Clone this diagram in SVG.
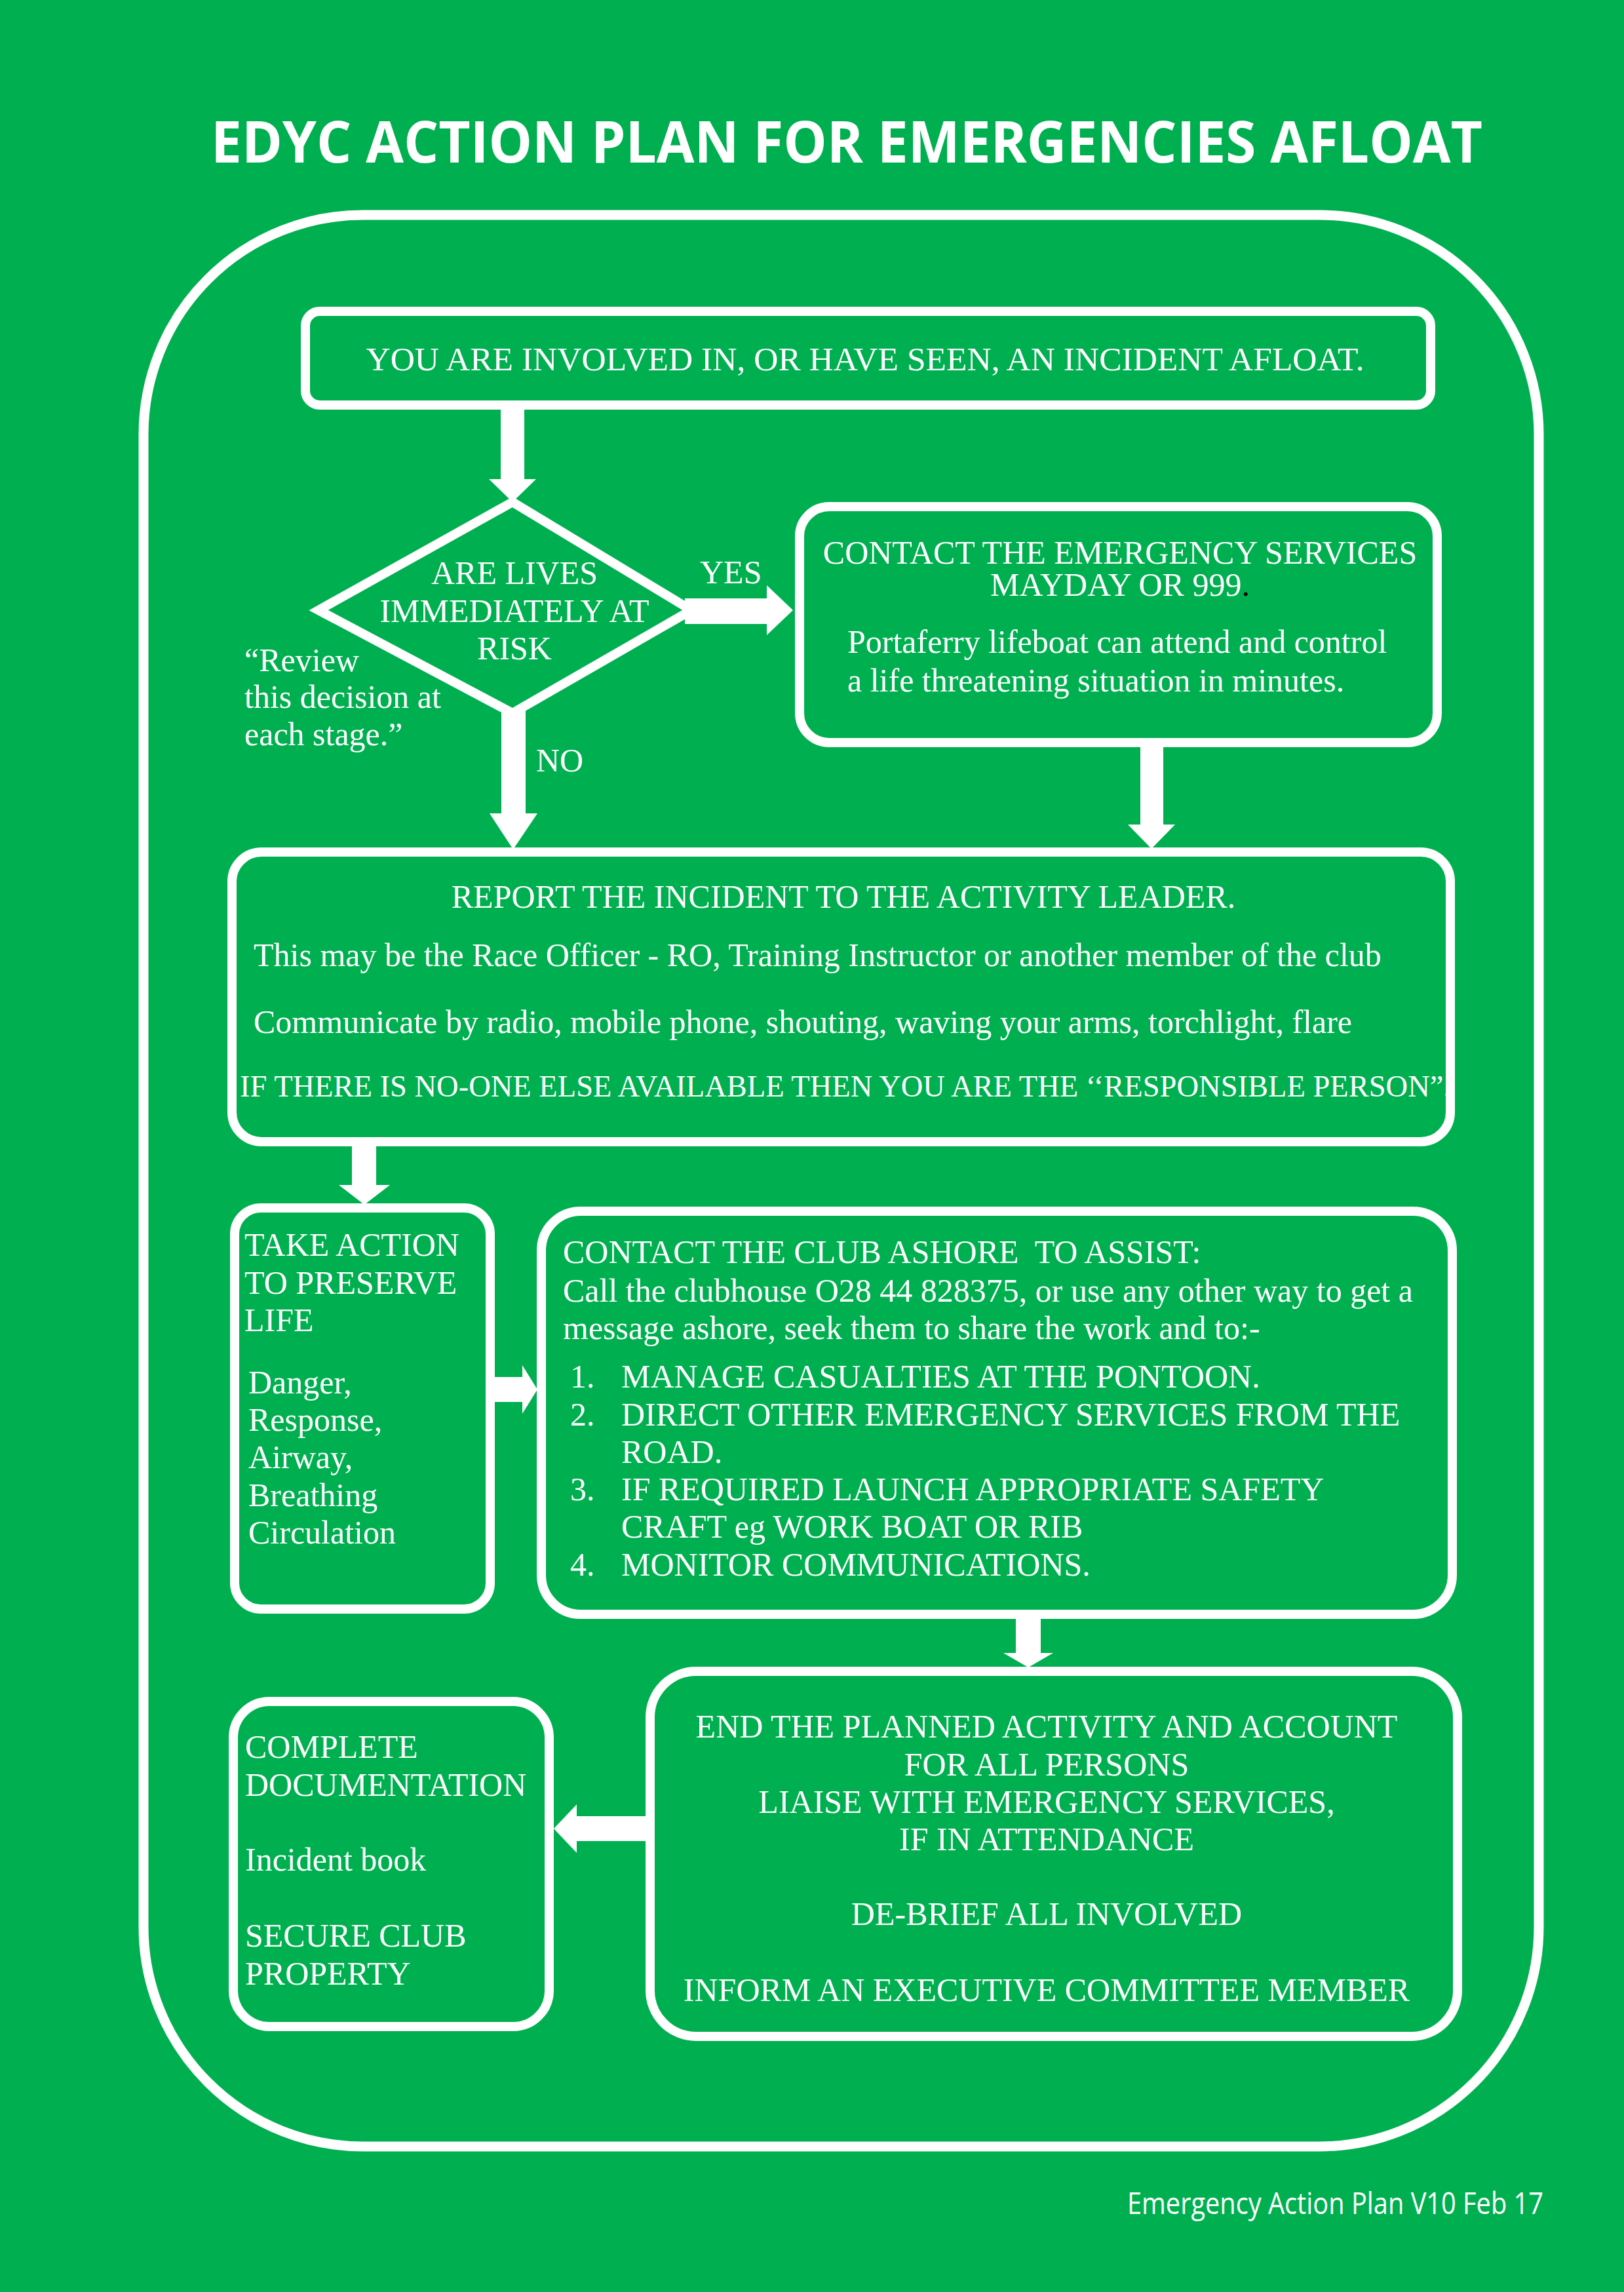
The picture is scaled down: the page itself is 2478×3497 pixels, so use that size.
<svg xmlns="http://www.w3.org/2000/svg" width="2478" height="3497" viewBox="0 0 2478 3497">
<style>
.bg{fill:#00B050}
.box{fill:none;stroke:#fff;stroke-width:14}
.arrow{fill:#fff}
.t{font-family:"Liberation Serif","Times New Roman",serif;font-size:50px;fill:#fff}
.c{text-anchor:middle}
.title{font-family:"Open Sans","Liberation Sans",sans-serif;font-weight:bold;font-size:88px;fill:#fff}
.foot{font-family:"Open Sans","Liberation Sans",sans-serif;font-size:46px;fill:#fff}
</style>
<rect class="bg" x="0" y="0" width="2478" height="3497"/>
<text class="title" x="322" y="248" textLength="1940" lengthAdjust="spacingAndGlyphs">EDYC ACTION PLAN FOR EMERGENCIES AFLOAT</text>
<rect id="frame" x="219" y="328" width="2129" height="2947" rx="335" ry="335" fill="none" stroke="#fff" stroke-width="15"/>
<g id="connectors">
<polygon class="arrow" points="764,620 800,620 800,731 818,731 782,766 746,731 764,731"/>
<polygon class="arrow" points="1045,913 1170,913 1170,893 1210,931 1170,969 1170,952 1045,952"/>
<polygon class="arrow" points="765,1082 802,1082 802,1241 820,1241 783,1296 747,1241 765,1241"/>
<polygon class="arrow" points="1740,1136 1775,1136 1775,1258 1793,1258 1757,1295 1721,1258 1740,1258"/>
<polygon class="arrow" points="537,1746 574,1746 574,1808 595,1808 556,1838 517,1808 537,1808"/>
<polygon class="arrow" points="751,2101 797,2101 797,2083 820,2120 797,2157 797,2139 751,2139"/>
<polygon class="arrow" points="1550,2463 1588,2463 1588,2522 1607,2522 1569,2544 1531,2522 1550,2522"/>
<polygon class="arrow" points="987,2771 880,2771 880,2753 845,2790 880,2827 880,2809 987,2809"/>
<text class="t" x="1068" y="890">YES</text>
<text class="t" x="818" y="1177">NO</text>
</g>
<g id="node-incident">
<rect class="box" x="466" y="475" width="1717" height="143" rx="22"/>
<text class="t c" x="1320" y="565" style="font-size:51.5px">YOU ARE INVOLVED IN, OR HAVE SEEN, AN INCIDENT AFLOAT.</text>
</g>
<g id="node-decision">
<polygon class="box" points="782,766 1055,931 782,1088 486,931"/>
<text class="t c" x="785" y="891">ARE LIVES</text>
<text class="t c" x="785" y="949">IMMEDIATELY AT</text>
<text class="t c" x="785" y="1006">RISK</text>
</g>
<g id="note-review">
<text class="t" x="373" y="1024">“Review</text>
<text class="t" x="373" y="1080">this decision at</text>
<text class="t" x="373" y="1137">each stage.”</text>
</g>
<g id="node-emergency">
<rect class="box" x="1220" y="773" width="973" height="360" rx="45"/>
<text class="t c" x="1709" y="860">CONTACT THE EMERGENCY SERVICES</text>
<text class="t c" x="1709" y="909">MAYDAY OR 999<tspan fill="#000">.</tspan></text>
<text class="t" x="1293" y="996">Portaferry lifeboat can attend and control</text>
<text class="t" x="1293" y="1055">a life threatening situation in minutes.</text>
</g>
<g id="node-report">
<rect class="box" x="354" y="1300" width="1859" height="442" rx="45"/>
<text class="t c" x="1287" y="1385">REPORT THE INCIDENT TO THE ACTIVITY LEADER.</text>
<text class="t" x="387" y="1474">This may be the Race Officer - RO, Training Instructor or another member of the club</text>
<text class="t" x="387" y="1576">Communicate by radio, mobile phone, shouting, waving your arms, torchlight, flare</text>
<text class="t" x="366" y="1673" style="font-size:46.5px">IF THERE IS NO-ONE ELSE AVAILABLE THEN YOU ARE THE ‘‘RESPONSIBLE PERSON”.</text>
</g>
<g id="node-preserve">
<rect class="box" x="358" y="1843" width="390" height="612" rx="40"/>
<text class="t" x="373" y="1916">TAKE ACTION</text>
<text class="t" x="373" y="1974">TO PRESERVE</text>
<text class="t" x="373" y="2031">LIFE</text>
<text class="t" x="379" y="2126">Danger,</text>
<text class="t" x="379" y="2183">Response,</text>
<text class="t" x="379" y="2240">Airway,</text>
<text class="t" x="379" y="2298">Breathing</text>
<text class="t" x="379" y="2355">Circulation</text>
</g>
<g id="node-club">
<rect class="box" x="826" y="1848" width="1390" height="615" rx="60"/>
<text class="t" x="859" y="1927" xml:space="preserve">CONTACT THE CLUB ASHORE  TO ASSIST:</text>
<text class="t" x="859" y="1986">Call the clubhouse O28 44 828375, or use any other way to get a</text>
<text class="t" x="859" y="2043">message ashore, seek them to share the work and to:-</text>
<text class="t" x="870" y="2117">1.</text>
<text class="t" x="948" y="2117">MANAGE CASUALTIES AT THE PONTOON.</text>
<text class="t" x="870" y="2175">2.</text>
<text class="t" x="948" y="2175">DIRECT OTHER EMERGENCY SERVICES FROM THE</text>
<text class="t" x="948" y="2232">ROAD.</text>
<text class="t" x="870" y="2289">3.</text>
<text class="t" x="948" y="2289">IF REQUIRED LAUNCH APPROPRIATE SAFETY</text>
<text class="t" x="948" y="2346">CRAFT eg WORK BOAT OR RIB</text>
<text class="t" x="870" y="2404">4.</text>
<text class="t" x="948" y="2404">MONITOR COMMUNICATIONS.</text>
</g>
<g id="node-end">
<rect class="box" x="992" y="2550" width="1232" height="557" rx="70"/>
<text class="t c" x="1597" y="2651">END THE PLANNED ACTIVITY AND ACCOUNT</text>
<text class="t c" x="1597" y="2709">FOR ALL PERSONS</text>
<text class="t c" x="1597" y="2766">LIAISE WITH EMERGENCY SERVICES,</text>
<text class="t c" x="1597" y="2823">IF IN ATTENDANCE</text>
<text class="t c" x="1597" y="2937">DE-BRIEF ALL INVOLVED</text>
<text class="t c" x="1597" y="3053">INFORM AN EXECUTIVE COMMITTEE MEMBER</text>
</g>
<g id="node-docs">
<rect class="box" x="356" y="2596" width="482" height="496" rx="55"/>
<text class="t" x="374" y="2682">COMPLETE</text>
<text class="t" x="374" y="2740">DOCUMENTATION</text>
<text class="t" x="374" y="2854">Incident book</text>
<text class="t" x="374" y="2970">SECURE CLUB</text>
<text class="t" x="374" y="3028">PROPERTY</text>
</g>
<text class="foot" x="1720" y="3378" textLength="635" lengthAdjust="spacingAndGlyphs">Emergency Action Plan V10 Feb 17</text>
</svg>
